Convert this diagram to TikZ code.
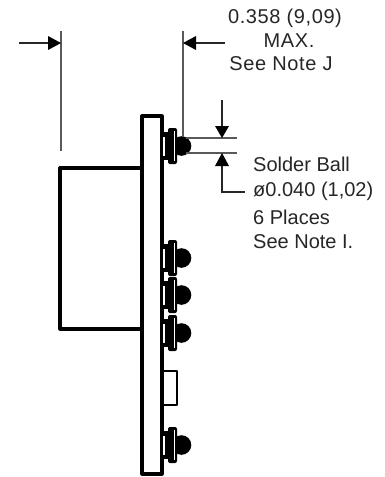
\documentclass[tikz,border=0pt]{standalone}
\usepackage{fontspec}
\setmainfont{Liberation Sans}
\tikzset{
 x=1pt,y=-1pt,
 heavy/.style={line width=3.2pt,line join=round,line cap=round},
 med/.style={line width=2.6pt,line join=round},
 dimline/.style={line width=1.2pt,draw=black!65},
 stem/.style={line width=1.2pt,draw=black!85},
 tip/.style={fill=black,draw=none},
 lab/.style={font=\fontsize{20}{24}\selectfont\addfontfeature{LetterSpace=3},align=center,inner sep=0,anchor=center,text=black!85},
 labl/.style={font=\fontsize{20}{24}\selectfont,inner sep=0,anchor=west,text=black!85}
}
\newcommand{\conn}[1]{%
 \fill[black] (181.5,#1) circle (9.8);
 \fill[black] (161,#1-14) rectangle (168.5,#1+14);
 \fill[white] (163,#1-9) rectangle (165.3,#1+10);
 \fill[black,rounded corners=2pt] (168,#1-18) rectangle (177,#1+18);
 \fill[white] (173.6,#1-15) rectangle (174.6,#1+15);
}
\begin{document}
\begin{tikzpicture}
\useasboundingbox (0,0) rectangle (384,477);
\draw[heavy] (142,474) -- (142,116) -- (162,116) -- (162,474) -- cycle;
\draw[heavy] (142,168) -- (60,168) -- (60,329) -- (142,329);
\conn{146}\conn{258}\conn{295}\conn{333}\conn{445}
\draw[med] (162,371) -- (177,371) -- (177,405) -- (162,405);
% extension lines
\draw[dimline] (61,31) -- (61,151);
\draw[dimline] (183,31) -- (183,137);
\draw[dimline] (186,138) -- (237,138);
\draw[dimline] (186,153) -- (237,153);
% arrows
\draw[stem] (19,43) -- (50,43);
\fill[tip] (61,43) -- (48,36) -- (48,50) -- cycle;
\draw[stem] (225,43) -- (195,43);
\fill[tip] (183,43) -- (196,36) -- (196,50) -- cycle;
\draw[stem] (222,100) -- (222,128);
\fill[tip] (222,138) -- (215,126) -- (229,126) -- cycle;
\draw[stem] (222,165) -- (222,192) -- (245,192);
\fill[tip] (222,153) -- (215,166) -- (229,166) -- cycle;
\node[lab] (t1) at (285,18) {0.358 (9,09)};
\node[lab] (t2) at (289,41) {MAX.};
\node[lab] (t3) at (281,64) {See Note J};
\node[labl] (t4) at (253,164) {Solder Ball};
\node[labl] (t5) at (253,191) {ø0.040 (1,02)};
\node[labl] (t6) at (253,217) {6 Places};
\node[labl] (t7) at (253,242) {See Note I.};
\end{tikzpicture}
\end{document}
